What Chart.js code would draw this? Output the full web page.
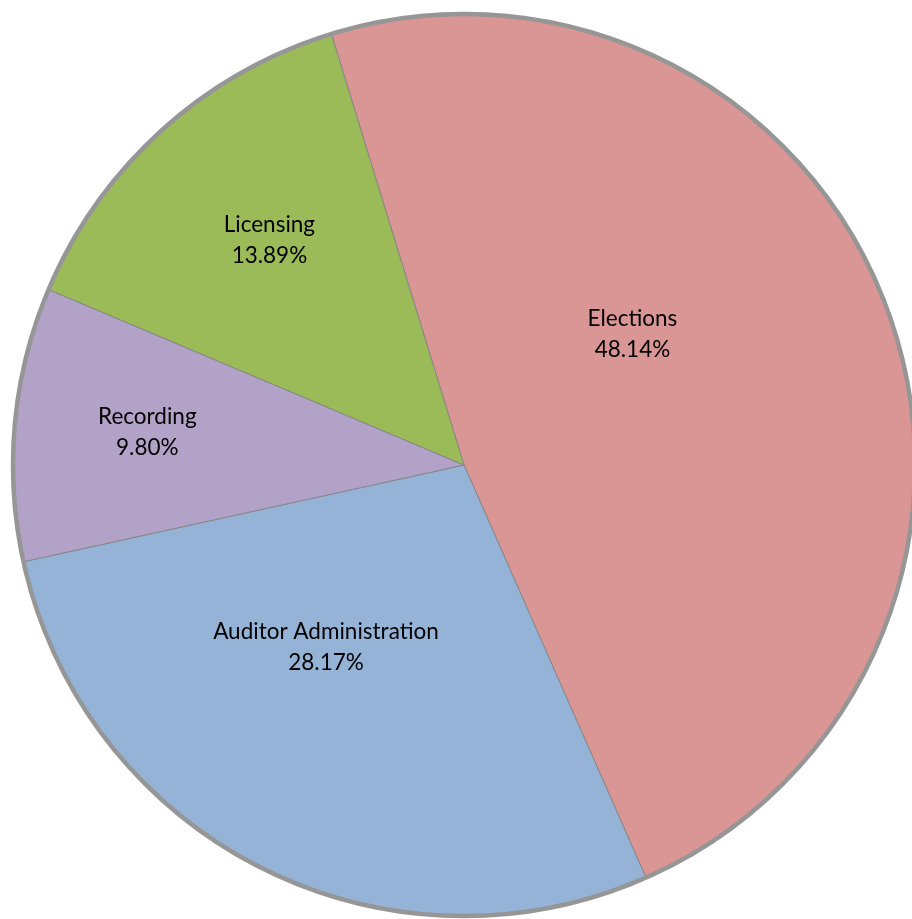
<!DOCTYPE html>
<html>
<head>
<meta charset="utf-8">
<script src="https://cdn.jsdelivr.net/npm/chart.js@4"></script>
<style>
  html, body { margin: 0; padding: 0; background: #fff; overflow: hidden; }
  #wrap { position: absolute; left: 0; top: 0; width: 928px; height: 930px; }
</style>
</head>
<body>
<div id="wrap"><canvas id="budgetPie"></canvas></div>
<script>
const departments = ['Elections', 'Auditor Administration', 'Recording', 'Licensing'];
const shares = [48.14, 28.17, 9.80, 13.89];
const sliceColors = ['#D99694', '#95B3D7', '#B3A2C7', '#9BBB59'];

// outer grey rim around the whole pie
const rimPlugin = {
  id: 'rim',
  afterDatasetsDraw(chart) {
    const arc = chart.getDatasetMeta(0).data[0];
    if (!arc) return;
    const { x, y, outerRadius } = arc.getProps(['x', 'y', 'outerRadius'], true);
    const ctx = chart.ctx;
    ctx.save();
    ctx.beginPath();
    ctx.arc(x, y, outerRadius, 0, Math.PI * 2);
    ctx.lineWidth = 4.5;
    ctx.strokeStyle = '#969696';
    ctx.stroke();
    ctx.restore();
  }
};

// name + percentage inside each slice
const sliceLabels = {
  id: 'sliceLabels',
  afterDraw(chart, args, opts) {
    const ctx = chart.ctx;
    const meta = chart.getDatasetMeta(0);
    ctx.save();
    ctx.font = opts.font;
    ctx.fillStyle = '#000';
    ctx.textAlign = 'center';
    ctx.textBaseline = 'alphabetic';
    meta.data.forEach((arc, i) => {
      const p = arc.getProps(['x', 'y', 'startAngle', 'endAngle', 'outerRadius'], true);
      const place = opts.place[i];
      const mid = (p.startAngle + p.endAngle) / 2 + place.shift * Math.PI / 180;
      const cx = p.x + Math.cos(mid) * p.outerRadius * place.r;
      const cy = p.y + Math.sin(mid) * p.outerRadius * place.r;
      ctx.fillText(chart.data.labels[i], cx, cy - 8);
      ctx.fillText(shares[i].toFixed(2) + '%', cx, cy + 23);
    });
    ctx.restore();
  }
};

new Chart(document.getElementById('budgetPie'), {
  type: 'pie',
  data: {
    labels: departments,
    datasets: [{
      data: shares,
      backgroundColor: sliceColors,
      borderColor: 'rgb(134, 134, 134)',
      borderWidth: 1
    }]
  },
  options: {
    responsive: true,
    maintainAspectRatio: false,
    animation: false,
    rotation: -17.1,
    layout: {
      padding: { left: 12.5, right: 12.5, top: 13.5, bottom: 13.5 }
    },
    plugins: {
      legend: { display: false },
      tooltip: { enabled: false },
      sliceLabels: {
        font: '22.5px Lato',
        place: [
          { r: 0.473, shift: -17.4 },
          { r: 0.506, shift: 10.3 },
          { r: 0.706, shift: 0.7 },
          { r: 0.659, shift: 1.2 }
        ]
      }
    }
  },
  plugins: [rimPlugin, sliceLabels]
});
</script>
</body>
</html>
